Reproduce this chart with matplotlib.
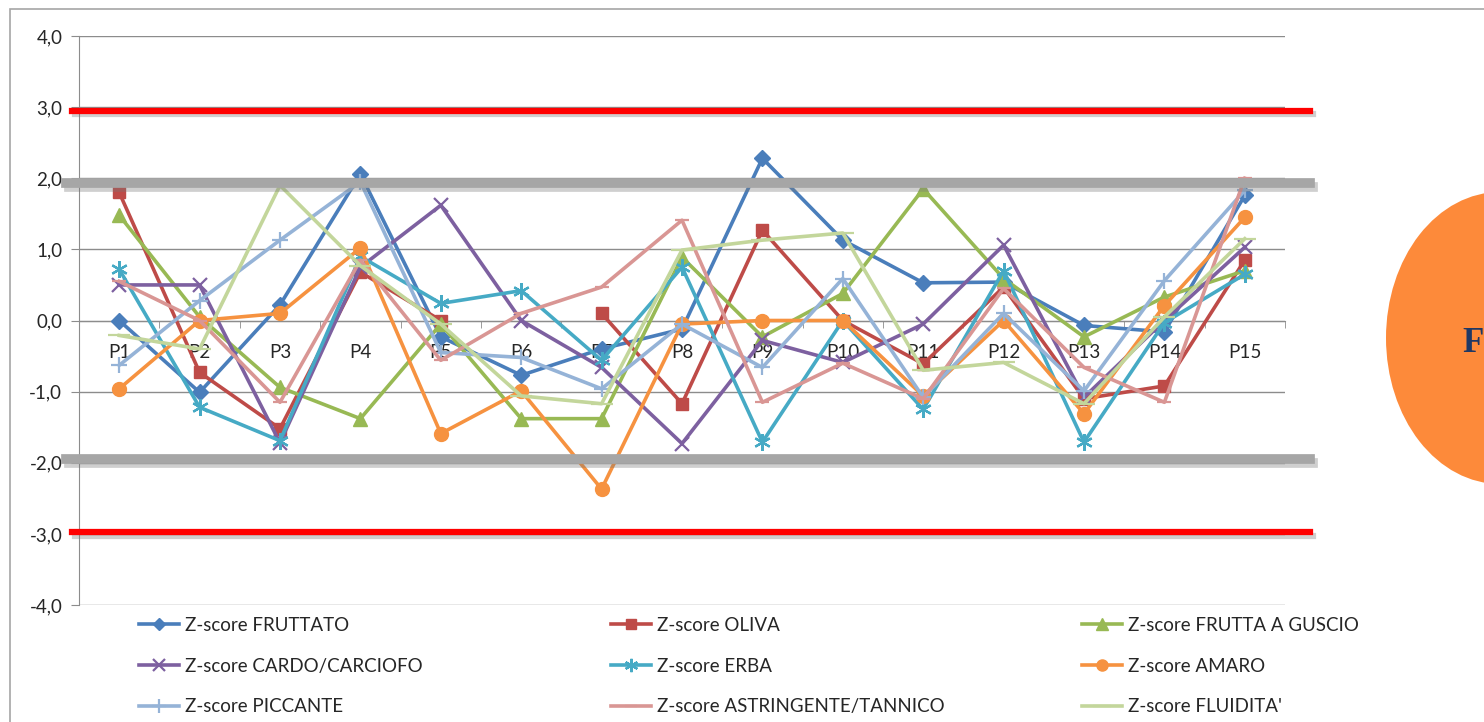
import numpy as np
import matplotlib
matplotlib.use('Agg')
from matplotlib import pyplot as plt
from matplotlib import patheffects as pe
from matplotlib.lines import Line2D
from matplotlib.patches import Ellipse, Rectangle
from matplotlib.ticker import FixedLocator, FuncFormatter

plt.rcParams['font.family'] = ['Lato', 'DejaVu Sans']

# panel di assaggio P1..P15
categorie = ['P%d' % i for i in range(1, 16)]

fruttato = [0.0, -1.01, 0.22, 2.06, -0.23, -0.77, -0.40, -0.12, 2.28, 1.13, 0.53, 0.54, -0.07, -0.16, 1.76]
oliva = [1.80, -0.73, -1.52, 0.68, 0.0, np.nan, 0.10, -1.17, 1.27, 0.0, -0.61, 0.47, -1.10, -0.92, 0.85]
frutta_guscio = [1.48, 0.05, -0.94, -1.38, -0.05, -1.38, -1.38, 0.89, -0.23, 0.38, 1.85, 0.59, -0.23, 0.33, 0.70]
cardo = [0.50, 0.50, -1.72, 0.75, 1.62, 0.0, -0.66, -1.73, -0.28, -0.59, -0.05, 1.06, -1.08, 0.0, 1.03]
erba = [0.72, -1.22, -1.69, 0.90, 0.24, 0.42, -0.56, 0.75, -1.71, 0.0, -1.25, 0.70, -1.71, -0.03, 0.65]
amaro = [-0.96, 0.0, 0.10, 1.02, -1.59, -0.99, -2.37, -0.05, 0.0, 0.0, -1.06, 0.0, -1.31, 0.21, 1.45]
piccante = [-0.63, 0.28, 1.13, 1.95, -0.45, -0.52, -0.96, -0.05, -0.66, 0.59, -1.08, 0.10, -0.99, 0.56, 1.83]
astringente = [0.55, 0.0, -1.15, 0.85, -0.56, 0.10, 0.47, 1.41, -1.15, -0.60, -1.10, 0.45, -0.66, -1.15, 2.0]
fluidita = [-0.21, -0.40, 1.90, 0.77, -0.05, -1.06, -1.17, 0.99, 1.13, 1.23, -0.70, -0.59, -1.17, 0.05, 1.15]

# soglie disegnate sopra il grafico
soglie_rosse = [2.95, -2.98]
soglie_grigie = [1.93, -1.95]

serie = [
    ('Z-score FRUTTATO', fruttato, '#4A7EBB', 'D', 8),
    ('Z-score OLIVA', oliva, '#BE4B48', 's', 9),
    ('Z-score FRUTTA A GUSCIO', frutta_guscio, '#98B954', '^', 10),
    ('Z-score CARDO/CARCIOFO', cardo, '#7D60A0', 'x', 10),
    ('Z-score ERBA', erba, '#46AAC5', (6, 2, 0), 12),
    ('Z-score AMARO', amaro, '#F69240', 'o', 10),
    ('Z-score PICCANTE', piccante, '#95B3D7', '+', 12),
    ('Z-score ASTRINGENTE/TANNICO', astringente, '#D99694', '_', 10),
    ("Z-score FLUIDITA'", fluidita, '#C3D69B', '_', 16),
]

W, H = 1484, 722
FS = 13.5
fig = plt.figure(figsize=(W / 100, H / 100), dpi=100)
fig.patch.set_facecolor('white')

# cornice esterna del grafico
fig.add_artist(Rectangle((10 / W, -0.05), 1.2, 1 - 9 / H + 0.05, transform=fig.transFigure,
                         fill=False, edgecolor='#A6A6A6', linewidth=1.2))

ax = fig.add_axes([79 / W, 1 - 605 / H, (1285 - 79) / W, (605 - 36) / H])
x = np.arange(len(categorie))

for nome, valori, colore, marker, ms in serie:
    ax.plot(x, valori, color=colore, linewidth=2.6, marker=marker, markersize=ms,
            markeredgewidth=1.6 if marker in ('x', '+', '_') or isinstance(marker, tuple) else 1,
            markerfacecolor=colore, markeredgecolor=colore, label=nome, zorder=3,
            clip_on=False)

ax.set_xlim(-0.5, len(categorie) - 0.5)
ax.set_ylim(-4, 4)
ax.yaxis.set_major_locator(FixedLocator(np.arange(-4, 5, 1)))
ax.yaxis.set_major_formatter(FuncFormatter(lambda v, p: ('%.1f' % v).replace('.', ',')))
ax.grid(axis='y', color='#8C8C8C', linewidth=1)
ax.set_axisbelow(True)

for s in ['top', 'right']:
    ax.spines[s].set_visible(False)
ax.spines['left'].set_color('#8C8C8C')
ax.spines['bottom'].set_position(('data', 0))
ax.spines['bottom'].set_color('#8C8C8C')

ax.set_xticks(x)
ax.set_xticklabels(categorie)
ax.set_xticks(np.arange(-0.5, len(categorie), 1), minor=True)
ax.tick_params(axis='x', which='major', length=0, pad=17, labelsize=FS, labelcolor='#262626')
ax.tick_params(axis='x', which='minor', length=5, color='#8C8C8C', direction='out')
ax.tick_params(axis='y', length=6, color='#8C8C8C', labelsize=FS, labelcolor='#262626', pad=6)

# linee di soglia con ombra
ombra = [pe.SimpleLineShadow(offset=(2, -2.5), shadow_color='#777777', alpha=0.35), pe.Normal()]
for y in soglie_rosse:
    ax.add_line(Line2D([(72 - 79) / 80.4 - 0.5, (1310 - 79) / 80.4 - 0.5], [y, y], color='#FF0000',
                       linewidth=4.5, zorder=6, clip_on=False, path_effects=ombra))
for y in soglie_grigie:
    ax.add_line(Line2D([(66 - 79) / 80.4 - 0.5, (1310 - 79) / 80.4 - 0.5], [y, y], color='#A6A6A6',
                       linewidth=7, zorder=6, clip_on=False, path_effects=ombra))

# legenda su tre colonne equidistanti
handles, labels = ax.get_legend_handles_labels()
for col, x0 in enumerate([139, 611, 1082]):
    idx = [col, col + 3, col + 6]
    leg = fig.legend([handles[i] for i in idx], [labels[i] for i in idx], loc='upper left',
                     bbox_to_anchor=(x0 / W, 1 - 617 / H), frameon=False, fontsize=FS,
                     labelspacing=1.26, handlelength=2.15, handletextpad=0.28, borderpad=0,
                     borderaxespad=0, markerscale=0.8)
    for t in leg.get_texts():
        t.set_color('#262626')

# elemento grafico decorativo sul lato destro
fig.add_artist(Ellipse((1500 / W, 1 - 338 / H), 2 * 114 / W, 2 * 146 / H, transform=fig.transFigure,
                       facecolor='#FD8A3A', edgecolor='none'))
fig.text(1462 / W, 1 - 344 / H, 'F', fontsize=25, fontweight='bold', family='Liberation Serif',
         color='#1F3864', va='center', ha='left')

fig.savefig('out.png', dpi=100)
